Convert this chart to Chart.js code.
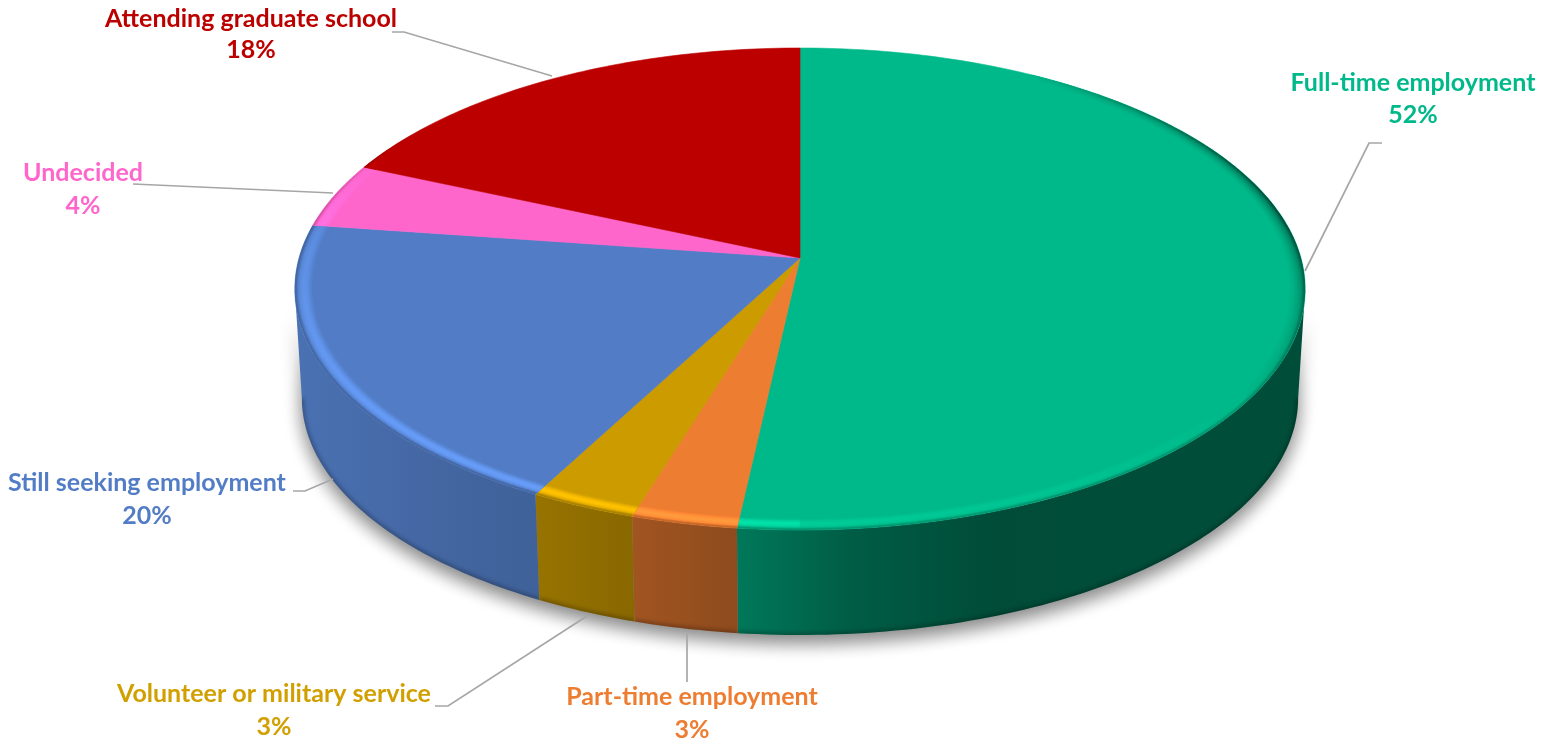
<!DOCTYPE html>
<html>
<head>
<meta charset="utf-8">
<title>Graduate outcomes</title>
<script src="https://cdn.jsdelivr.net/npm/chart.js@4/dist/chart.umd.js"></script>
<style>
  html, body { margin: 0; padding: 0; background: #fff; }
  canvas { display: block; }
</style>
</head>
<body>
<canvas id="grafico" width="1554" height="744"></canvas>
<script>
// Values
const categorias = ['Full-time employment', 'Part-time employment', 'Volunteer or military service',
  'Still seeking employment', 'Undecided', 'Attending graduate school'];
const valores = [51.75, 3.0, 3.0, 19.5, 4.35, 18.4];

const colores = ['#00B98A', '#ED7D31', '#CC9B00', '#527DC6', '#FF66CC', '#BC0000'];
const coloresTexto = ['#00B98A', '#ED7D31', '#D1A000', '#527DC6', '#FF66CC', '#BC0000'];

// Label placement: [centre x, name y, percent y]
const posLabels = [[1413, 83, 115], [692, 697, 730], [274, 694, 727], [147, 483, 516], [83, 173, 206], [251, 19, 50]];
// Leader lines
const lineas = [
  [[1305, 271], [1369, 143], [1382, 143]],
  [[687, 634], [687, 682]],
  [[587, 616], [448, 706], [435, 706]],
  [[333, 479], [305, 491], [293, 491]],
  [[333, 193], [133, 184]],
  [[552, 76], [404, 32], [392, 32]]
];
// Wall shading per slice: [position across the slice, brightness]
const sombraPared = [
  [[0, 0.65], [0.2, 0.5], [0.45, 0.41], [1, 0.42]],
  [[0, 0.68], [1, 0.6]],
  [[0, 0.74], [1, 0.67]],
  [[0, 0.9], [0.75, 0.8], [1, 0.78]],
  [[0, 0.8], [1, 0.8]],
  [[0, 0.8], [1, 0.8]]
];

// Perspective of the disc: top plane and bottom plane
const K = 0.1286;
const CX = 800;
const TOP = { A: 501, a: 237, y0: 258 };
const BOT = { A: 494, a: 233, y0: 367.6 };
const PARED_INI = 97.4 * Math.PI / 180;
const PARED_FIN = 262.6 * Math.PI / 180;

function proyectar(t, r, plano) {
  const u = r * Math.sin(t);
  const v = -r * Math.cos(t);
  const w = 1 - K * v;
  return [CX + plano.A * u / w, plano.y0 + plano.a * v / w];
}

function trazarArco(ctx, t0, t1, r, plano, mover) {
  const pasos = Math.max(2, Math.ceil(Math.abs(t1 - t0) * 180 / Math.PI));
  for (let i = 0; i <= pasos; i++) {
    const p = proyectar(t0 + (t1 - t0) * i / pasos, r, plano);
    if (i === 0 && mover) ctx.moveTo(p[0], p[1]); else ctx.lineTo(p[0], p[1]);
  }
}

function tono(hex, f) {
  const n = parseInt(hex.slice(1), 16);
  const c = [n >> 16, (n >> 8) & 255, n & 255].map(x => Math.min(255, Math.round(x * f)));
  return 'rgb(' + c.join(',') + ')';
}

// Angle measured clockwise from the top of the pie
function theta(arc) {
  return [arc.startAngle + Math.PI / 2, arc.endAngle + Math.PI / 2];
}

function pesoFrente(t) {
  const g = t * 180 / Math.PI;
  if (g < 30 || g > 305) return 0;
  if (g < 80) return (g - 30) / 50;
  if (g > 280) return (305 - g) / 25;
  return 1;
}

// Each arc is drawn as its projected top face, with a bevel along the rim
Chart.ArcElement.prototype.draw = function (ctx) {
  const [t0, t1] = theta(this);
  const base = this.options.backgroundColor;
  ctx.save();
  ctx.beginPath();
  const c = proyectar(0, 0, TOP);
  ctx.moveTo(c[0], c[1]);
  trazarArco(ctx, t0, t1, 1, TOP, false);
  ctx.closePath();
  ctx.fillStyle = base;
  ctx.strokeStyle = base;
  ctx.lineWidth = 0.6;
  ctx.fill();
  ctx.stroke();
  ctx.clip();

  const anillos = 12;
  const ancho = 0.036;
  const paso = Math.PI / 180;
  ctx.lineCap = 'butt';
  for (let j = 0; j < anillos; j++) {
    const p = (j + 0.5) / anillos;
    const r = 1 - ancho * (1 - p);
    const perfil = Math.pow(Math.sin(Math.PI * p), 1.5);
    for (let t = t0; t < t1; t += paso) {
      const tm = t + paso / 2;
      const peso = pesoFrente(tm);
      let L = Math.cos(tm - 215 * Math.PI / 180) * peso;
      if (L > 0 && tm < Math.PI) L *= 0.5;
      let f = L > 0 ? 1 + 0.26 * L * perfil : 1 + 0.72 * L * p * p;
      // the rim darkens as it meets the wall
      if (p > 0.8) f *= 1 - (p - 0.8) * 1.1 * peso;
      if (Math.abs(f - 1) < 0.01) continue;
      ctx.beginPath();
      const a = proyectar(t, r, TOP);
      const b = proyectar(Math.min(t + paso * 1.1, t1), r, TOP);
      ctx.moveTo(a[0], a[1]);
      ctx.lineTo(b[0], b[1]);
      ctx.strokeStyle = tono(base, f);
      ctx.lineWidth = 2.2;
      ctx.stroke();
    }
  }
  ctx.restore();
};

// Shadow and side wall, painted under the arcs
const paredes = {
  id: 'paredes',
  beforeDatasetsDraw(chart) {
    const ctx = chart.ctx;
    const arcos = chart.getDatasetMeta(0).data;

    ctx.save();
    ctx.shadowColor = 'rgba(0,0,0,0.28)';
    ctx.shadowBlur = 18;
    ctx.shadowOffsetX = 3000;
    ctx.shadowOffsetY = 8;
    ctx.translate(-3000, 0);
    ctx.beginPath();
    trazarArco(ctx, 0, Math.PI * 2, 1, BOT, true);
    ctx.closePath();
    ctx.fill();
    ctx.beginPath();
    trazarArco(ctx, PARED_INI, PARED_FIN, 1, TOP, true);
    trazarArco(ctx, PARED_FIN, PARED_INI, 1, BOT, false);
    ctx.closePath();
    ctx.fill();
    ctx.restore();

    arcos.forEach((arc, i) => {
      let [t0, t1] = theta(arc);
      t0 = Math.max(t0, PARED_INI);
      t1 = Math.min(t1, PARED_FIN);
      if (t1 <= t0) return;
      const base = arc.options.backgroundColor;
      const xa = proyectar(t1, 1, TOP)[0];
      const xb = proyectar(t0, 1, TOP)[0];
      const grad = ctx.createLinearGradient(Math.min(xa, xb), 0, Math.max(xa, xb), 0);
      sombraPared[i].forEach(s => grad.addColorStop(s[0], tono(base, s[1])));

      ctx.save();
      ctx.beginPath();
      trazarArco(ctx, t0, t1, 1, TOP, true);
      trazarArco(ctx, t1, t0, 1, BOT, false);
      ctx.closePath();
      ctx.fillStyle = grad;
      ctx.fill();
      ctx.clip();

      // dark edge at the foot of the wall
      ctx.filter = 'blur(2px)';
      ctx.strokeStyle = 'rgba(0,0,0,0.3)';
      ctx.lineWidth = 4;
      ctx.beginPath();
      trazarArco(ctx, t0, t1, 1, BOT, true);
      ctx.stroke();
      ctx.restore();
    });
  }
};

// Outside labels and leader lines
const etiquetas = {
  id: 'etiquetas',
  afterDatasetsDraw(chart) {
    const ctx = chart.ctx;
    ctx.save();
    ctx.strokeStyle = '#A6A6A6';
    ctx.lineWidth = 1.7;
    lineas.forEach(l => {
      ctx.beginPath();
      l.forEach((p, i) => i ? ctx.lineTo(p[0], p[1]) : ctx.moveTo(p[0], p[1]));
      ctx.stroke();
    });
    ctx.font = 'bold 25px Lato';
    ctx.textAlign = 'center';
    ctx.textBaseline = 'middle';
    categorias.forEach((nombre, i) => {
      const p = posLabels[i];
      ctx.fillStyle = coloresTexto[i];
      ctx.fillText(nombre, p[0], p[1]);
      ctx.fillText(Math.round(valores[i]) + '%', p[0], p[2]);
    });
    ctx.restore();
  }
};

new Chart(document.getElementById('grafico').getContext('2d'), {
  type: 'pie',
  data: {
    labels: categorias,
    datasets: [{
      data: valores,
      backgroundColor: colores,
      borderWidth: 0
    }]
  },
  options: {
    responsive: false,
    animation: false,
    plugins: {
      legend: { display: false },
      tooltip: { enabled: false }
    }
  },
  plugins: [paredes, etiquetas]
});
</script>
</body>
</html>
